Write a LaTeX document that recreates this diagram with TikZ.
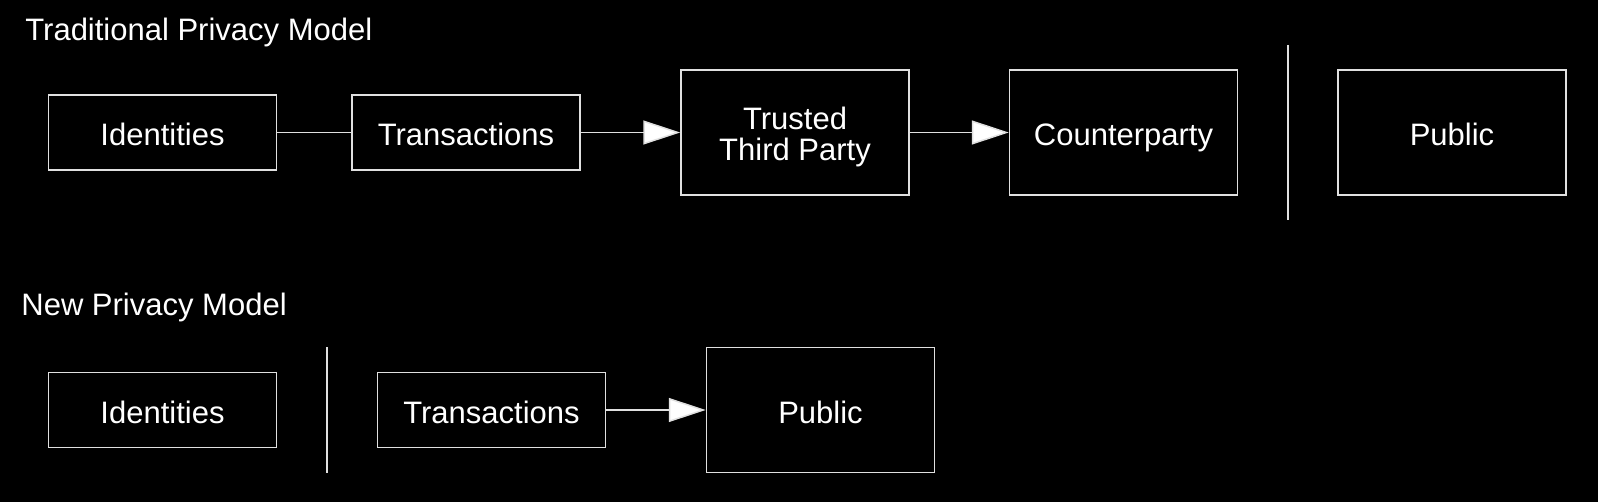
\documentclass[tikz,border=0pt]{standalone}
\usepackage{fontspec}
\setmainfont{Liberation Sans}
\usetikzlibrary{arrows.meta}

\tikzset{
  box/.style={draw=white!88!black, line width=0.75pt, text=white,
    minimum width=114pt, minimum height=37.5pt, inner sep=0pt,
    text height=13pt, text depth=0pt,
    align=center, font=\fontsize{15.5}{15.5}\selectfont},
  tallbox/.style={box, minimum height=62.5pt},
  title/.style={text=white, inner sep=0pt, anchor=base west,
    font=\fontsize{15.5}{15.5}\selectfont},
  link/.style={draw=white!88!black, line width=0.75pt},
  arr/.style={link, -{Triangle[length=18.5pt, width=12pt, fill=white]}}
}

\begin{document}
\begin{tikzpicture}[x=0.5pt, y=-0.5pt]
    % Background
    \fill[black] (0,0) rectangle (1598,502);
    \useasboundingbox (0,0) rectangle (1598,502);

    % Traditional Privacy Model
    \node[title] (tradtitle) at (25,41) {Traditional Privacy Model};
    \node[box] (identities) at (162.5,132.5) {Identities};
    \node[box] (transactions) at (466,132.5) {Transactions};
    \node[tallbox, text height=28.5pt] (third) at (795,132.5) {Trusted\\Third Party};
    \node[tallbox] (counter) at (1123.5,132.5) {Counterparty};
    \node[tallbox] (public) at (1452,132.5) {Public};
    \draw[link] (identities) -- (transactions);
    \draw[arr] (transactions) -- (third);
    \draw[arr] (third) -- (counter);

    % Separator
    \coordinate (septop) at (1288,45);
    \coordinate (sepbot) at (1288,220);
    \draw[link] (septop) -- (sepbot);

    % New Privacy Model
    \node[title] (newtitle) at (21,315) {New Privacy Model};
    \node[box] (newidentities) at (162.5,410) {Identities};
    \node[box] (newtransactions) at (491.5,410) {Transactions};
    \node[tallbox] (newpublic) at (820.5,410) {Public};
    \draw[arr] (newtransactions) -- (newpublic);

    % Separator
    \coordinate (newseptop) at (327,347);
    \coordinate (newsepbot) at (327,473);
    \draw[link] (newseptop) -- (newsepbot);
\end{tikzpicture}
\end{document}
